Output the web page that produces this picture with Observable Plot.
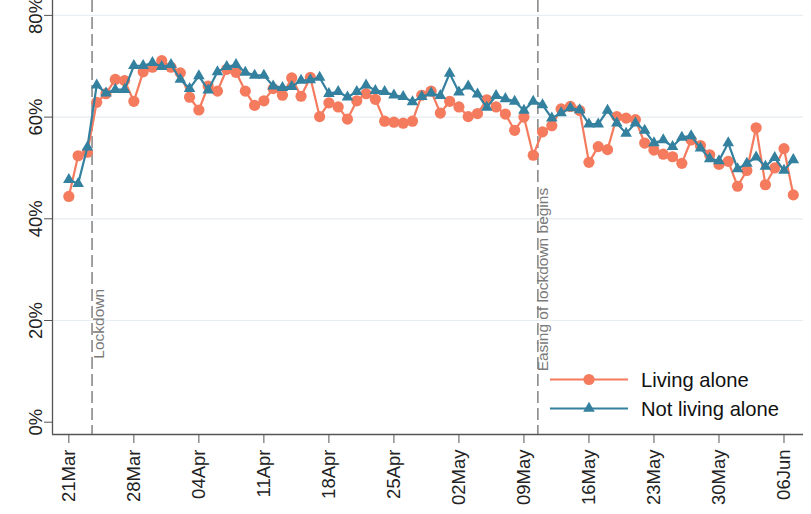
<!DOCTYPE html>
<html><head><meta charset="utf-8">
<script src="https://cdn.jsdelivr.net/npm/d3@7"></script>
<script src="https://cdn.jsdelivr.net/npm/@observablehq/plot@0.6"></script>
<style>
html,body{margin:0;padding:0;background:#fff;}
#chart{position:relative;width:811px;height:514px;overflow:hidden;}
</style></head><body><div id="chart"></div>
<script>
// ---- data (daily, starting 21 Mar 2020) ----
const startDate = "2020-03-21";
const livingAlone = [
  44.4, 52.4, 53.1, 62.9, 64.6, 67.4, 67.2, 63.1, 68.9, 69.8,
  71.1, 69.8, 68.7, 63.9, 61.4, 66.1, 65.1, 69.4, 68.8, 65.1,
  62.3, 63.2, 65.6, 64.3, 67.7, 64.1, 67.8, 60.1, 62.8, 62.0,
  59.6, 63.2, 64.6, 63.5, 59.2, 59.0, 58.8, 59.2, 64.3, 65.1,
  60.8, 63.1, 62.0, 60.1, 60.7, 63.4, 62.0, 60.6, 57.4, 60.0,
  52.5, 57.1, 58.3, 61.6, 62.1, 61.3, 51.1, 54.2, 53.6, 60.1,
  59.8, 59.5, 54.9, 53.5, 52.7, 52.2, 50.9, 55.5, 54.4, 52.6,
  50.7, 51.3, 46.4, 49.5, 57.9, 46.7, 50.0, 53.8, 44.7
];
const notLivingAlone = [
  47.7, 46.9, 54.1, 66.3, 64.7, 65.4, 65.4, 70.1, 70.1, 70.7,
  69.9, 70.3, 67.4, 65.6, 68.1, 65.3, 68.9, 69.9, 70.3, 68.8,
  68.2, 68.2, 66.1, 65.8, 66.0, 67.2, 67.3, 67.8, 64.6, 65.0,
  63.9, 65.0, 66.3, 65.2, 65.0, 64.3, 64.0, 63.0, 64.0, 64.7,
  64.2, 68.6, 64.9, 66.1, 64.5, 61.9, 64.2, 63.6, 63.1, 61.3,
  63.1, 62.4, 59.8, 60.8, 61.8, 61.4, 58.6, 58.6, 61.3, 58.8,
  56.8, 58.8, 57.4, 54.9, 55.5, 54.2, 56.0, 56.3, 53.9, 51.8,
  51.4, 54.9, 49.8, 50.9, 52.1, 50.3, 52.0, 49.5, 51.6
];
const tickDates = ["2020-03-21","2020-03-28","2020-04-04","2020-04-11","2020-04-18","2020-04-25",
                   "2020-05-02","2020-05-09","2020-05-16","2020-05-23","2020-05-30","2020-06-06"];
const yTicks = [0, 20, 40, 60, 80];
const gridValues = [20, 40, 60, 80];
const eventDates = ["2020-03-23T12:00Z", "2020-05-10T12:00Z"];
const eventLabels = ["Lockdown", "Easing of lockdown begins"];
const seriesNames = ["Living alone", "Not living alone"];

// ---- styling ----
const orange = "#f47b5e";
const blue = "#33809f";
const axisColor = "#555";
const gridColor = "#e6eef1";
const font = "'Liberation Sans', Arial, Helvetica, sans-serif";
const triR = 4.3;

const DAY = 864e5;
const t0 = new Date(startDate + "T00:00Z").getTime();
const toRows = (vals, s) => vals.map((v, i) => ({date: new Date(t0 + i * DAY), value: v, series: s}));
const rowsA = toRows(livingAlone, seriesNames[0]);
const rowsB = toRows(notLivingAlone, seriesNames[1]);
const events = eventDates.map((d, i) => ({date: new Date(d), label: eventLabels[i]}));
const xDomain = [new Date(t0 - 1.76 * DAY), new Date(t0 + 79.1 * DAY)];
const yDomain = [-2.42, 82.93];

const plot = Plot.plot({
  width: 811, height: 514,
  marginLeft: 52, marginRight: 8, marginTop: 0, marginBottom: 80,
  style: {fontFamily: font, fontSize: "18.5px", color: "#222", background: "white"},
  x: {type: "utc", domain: xDomain},
  y: {domain: yDomain},
  marks: [
    Plot.ruleY(gridValues, {stroke: gridColor, strokeWidth: 1.2}),
    Plot.ruleX(events, {x: "date", stroke: "#8a8a8a", strokeWidth: 1.6, strokeDasharray: "12,5"}),
    Plot.text(events.slice(0, 1), {x: "date", y: 12.5, text: "label", rotate: -90, textAnchor: "start",
      dx: 6.5, fill: "#7a7a7a", fontSize: 15.5}),
    Plot.text(events.slice(1), {x: "date", y: 10.0, text: "label", rotate: -90, textAnchor: "start",
      dx: 5.5, fill: "#7a7a7a", fontSize: 15.5}),
    Plot.line(rowsA, {x: "date", y: "value", stroke: orange, strokeWidth: 2.2}),
    Plot.dot(rowsA, {x: "date", y: "value", fill: orange, r: 5.6}),
    Plot.line(rowsB, {x: "date", y: "value", stroke: blue, strokeWidth: 2.2}),
    Plot.dot(rowsB, {x: "date", y: "value", symbol: "triangle", fill: blue, r: triR}),
    Plot.axisX({ticks: tickDates.map(d => new Date(d + "T00:00Z")), tickFormat: d3.utcFormat("%d%b"),
      tickRotate: -90, tickSize: 9, tickPadding: 6, stroke: axisColor, fill: "#222", fontSize: 18.5, label: null}),
    Plot.axisY({ticks: yTicks, tickFormat: d => d + "%", tickRotate: -90, tickSize: 8, tickPadding: 3,
      stroke: axisColor, fill: "#222", fontSize: 18.5, label: null}),
    Plot.ruleX([xDomain[0]], {stroke: axisColor, strokeWidth: 1.3}),
    Plot.ruleY([yDomain[0]], {stroke: axisColor, strokeWidth: 1.3})
  ]
});
document.getElementById("chart").appendChild(plot);

// ---- legend (inside plot, bottom right) ----
const svg = d3.select(plot);
const leg = svg.append("g").attr("font-family", font).attr("font-size", 20.2)
  .attr("fill", "#111").attr("text-anchor", "start");
const legendItems = [
  {name: seriesNames[0], color: orange, shape: "circle", y: 379.5},
  {name: seriesNames[1], color: blue, shape: "triangle", y: 408.5}
];
legendItems.forEach(it => {
  leg.append("line").attr("x1", 550).attr("x2", 628).attr("y1", it.y).attr("y2", it.y)
    .attr("stroke", it.color).attr("stroke-width", 2.2);
  if (it.shape === "circle") {
    leg.append("circle").attr("cx", 589).attr("cy", it.y).attr("r", 5.6).attr("fill", it.color);
  } else {
    leg.append("path").attr("transform", `translate(589,${it.y})`)
      .attr("d", d3.symbol(d3.symbolTriangle, Math.PI * triR * triR)()).attr("fill", it.color);
  }
  leg.append("text").attr("x", 641).attr("y", it.y).attr("dy", "0.35em")
    .attr("text-anchor", "start").text(it.name);
});
</script>
</body></html>
